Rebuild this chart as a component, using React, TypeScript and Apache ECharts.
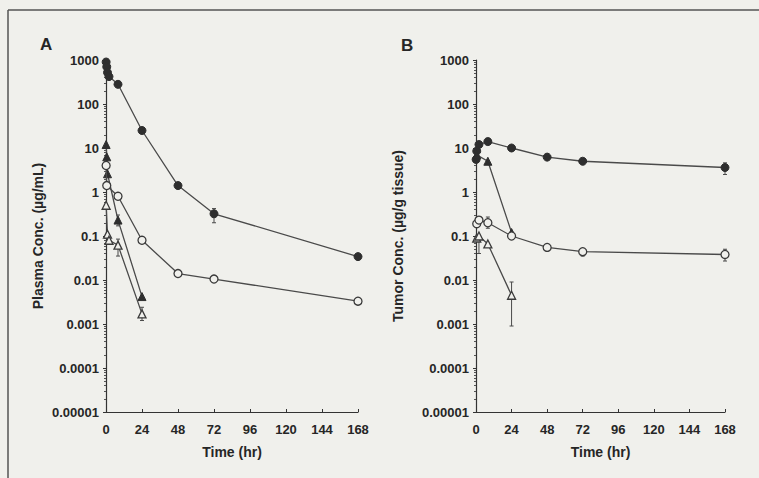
import React, { useEffect, useRef } from "react";
import * as echarts from "echarts";

const yTickLabels = ["0.00001", "0.0001", "0.001", "0.01", "0.1", "1", "10", "100", "1000"];
const xTicks = [0, 24, 48, 72, 96, 120, 144, 168];

// Panel A: plasma concentration (µg/mL)
const plasmaFilledCircle = [[0.083, 900], [0.5, 700], [1, 520], [2, 420], [8, 280], [24, 25], [48, 1.4], [72, 0.32], [168, 0.034]];
const plasmaFilledTriangle = [[0.083, 12], [0.5, 6.3], [1, 2.6], [8, 0.23], [24, 0.0042]];
const plasmaOpenCircle = [[0.083, 4], [0.5, 1.4], [8, 0.8], [24, 0.08], [48, 0.014], [72, 0.0105], [168, 0.0033]];
const plasmaOpenTriangle = [[0.083, 0.5], [1, 0.11], [2, 0.08], [8, 0.062], [24, 0.0017]];
const plasmaErrors = [[72, 0.2, 0.42], [8, 0.035, 0.085], [8, 0.17, 0.3], [24, 0.0012, 0.0024]];

// Panel B: tumor concentration (µg/g tissue)
const tumorFilledCircle = [[0.083, 5.5], [0.5, 8.5], [2, 12], [8, 14], [24, 10], [48, 6.2], [72, 5], [168, 3.6]];
const tumorFilledTriangle = [[0.5, 7], [8, 5], [24, 0.12]];
const tumorOpenCircle = [[0.5, 0.19], [2, 0.23], [8, 0.2], [24, 0.1], [48, 0.055], [72, 0.044], [168, 0.038]];
const tumorOpenTriangle = [[0.5, 0.09], [2, 0.1], [8, 0.066], [24, 0.0045]];
const tumorErrors = [[168, 2.5, 4.6], [168, 0.027, 0.05], [24, 0.0009, 0.009], [72, 0.035, 0.05], [8, 0.15, 0.27], [2, 0.04, 0.09]];

const BG = "#f0f0ec";
const INK = "#262626";
const LINE = "#4a4a4a";
const FONT = "'Liberation Sans', Arial, sans-serif";

function lineSeries(data: number[][], symbol: string, filled: boolean, idx: number) {
  return {
    type: "line",
    xAxisIndex: idx,
    yAxisIndex: idx,
    data,
    symbol,
    symbolSize: symbol === "triangle" ? 8 : 8,
    showAllSymbol: true,
    lineStyle: { color: LINE, width: 1.3 },
    itemStyle: filled
      ? { color: "#2e2e2e", borderColor: "#2e2e2e", borderWidth: 1 }
      : { color: BG, borderColor: "#3a3a3a", borderWidth: 1.3 },
    z: filled ? 3 : 4,
  };
}

function errorSeries(data: number[][], idx: number) {
  return {
    type: "custom",
    xAxisIndex: idx,
    yAxisIndex: idx,
    data,
    encode: { x: 0, y: [1, 2] },
    z: 2,
    renderItem: (_params: any, api: any) => {
      const x = api.value(0);
      const lo = api.coord([x, api.value(1)]);
      const hi = api.coord([x, api.value(2)]);
      const st = { stroke: LINE, lineWidth: 1 };
      return {
        type: "group",
        children: [
          { type: "line", shape: { x1: lo[0], y1: lo[1], x2: hi[0], y2: hi[1] }, style: st },
          { type: "line", shape: { x1: lo[0] - 2, y1: lo[1], x2: lo[0] + 2, y2: lo[1] }, style: st },
          { type: "line", shape: { x1: hi[0] - 2, y1: hi[1], x2: hi[0] + 2, y2: hi[1] }, style: st },
        ],
      };
    },
  };
}

function xAxis(idx: number) {
  return {
    type: "value",
    gridIndex: idx,
    min: 0,
    max: 168,
    interval: 24,
    name: "Time (hr)",
    nameLocation: "middle",
    nameGap: 33,
    nameTextStyle: { color: INK, fontWeight: "bold", fontSize: 14, fontFamily: FONT },
    axisLine: { lineStyle: { color: "#333", width: 1.2 } },
    axisTick: { show: true, inside: true, length: 3, lineStyle: { color: "#333" } },
    axisLabel: {
      color: INK,
      fontWeight: "bold",
      fontSize: 13,
      fontFamily: FONT,
      margin: 11,
      formatter: (v: number) => (xTicks.indexOf(v) >= 0 ? String(v) : ""),
    },
    splitLine: { show: false },
  };
}

function yAxis(idx: number, name: string, gap: number) {
  return {
    type: "log",
    logBase: 10,
    gridIndex: idx,
    min: 0.00001,
    max: 1000,
    interval: 1,
    name,
    nameLocation: "middle",
    nameGap: gap,
    nameTextStyle: { color: INK, fontWeight: "bold", fontSize: 14, fontFamily: FONT },
    axisLine: { lineStyle: { color: "#333", width: 1.2 } },
    axisTick: { show: true, length: 3, lineStyle: { color: "#333" } },
    minorTick: { show: true, splitNumber: 9, length: 2, lineStyle: { color: "#555" } },
    axisLabel: {
      color: INK,
      fontWeight: "bold",
      fontSize: 13,
      fontFamily: FONT,
      margin: 7,
      formatter: (v: number) => {
        const i = Math.round(Math.log10(v)) + 5;
        return yTickLabels[i] ?? "";
      },
    },
    splitLine: { show: false },
  };
}

export default function App() {
  const ref = useRef<HTMLDivElement>(null);
  useEffect(() => {
    if (!ref.current) return;
    const chart = echarts.init(ref.current, undefined, { renderer: "svg" });
    chart.setOption({
      animation: false,
      backgroundColor: BG,
      grid: [
        { left: 106, top: 60, width: 252, height: 352 },
        { left: 476, top: 60, width: 249, height: 352 },
      ],
      xAxis: [xAxis(0), xAxis(1)],
      yAxis: [yAxis(0, "Plasma Conc. (µg/mL)", 61), yAxis(1, "Tumor Conc. (µg/g tissue)", 71)],
      series: [
        errorSeries(plasmaErrors, 0),
        lineSeries(plasmaFilledCircle, "circle", true, 0),
        lineSeries(plasmaFilledTriangle, "triangle", true, 0),
        lineSeries(plasmaOpenCircle, "circle", false, 0),
        lineSeries(plasmaOpenTriangle, "triangle", false, 0),
        errorSeries(tumorErrors, 1),
        lineSeries(tumorFilledCircle, "circle", true, 1),
        lineSeries(tumorFilledTriangle, "triangle", true, 1),
        lineSeries(tumorOpenCircle, "circle", false, 1),
        lineSeries(tumorOpenTriangle, "triangle", false, 1),
      ],
      graphic: [
        { type: "line", shape: { x1: 8, y1: 10, x2: 759, y2: 10 }, style: { stroke: "#555", lineWidth: 1.5 } },
        { type: "line", shape: { x1: 8, y1: 10, x2: 8, y2: 478 }, style: { stroke: "#555", lineWidth: 1.5 } },
        { type: "text", left: 40, top: 36, style: { text: "A", font: `bold 17px ${FONT}`, fill: INK } },
        { type: "text", left: 401, top: 37, style: { text: "B", font: `bold 17px ${FONT}`, fill: INK } },
      ],
    });
    return () => chart.dispose();
  }, []);
  return <div ref={ref} style={{ position: "fixed", left: 0, top: 0, width: 759, height: 478 }} />;
}
